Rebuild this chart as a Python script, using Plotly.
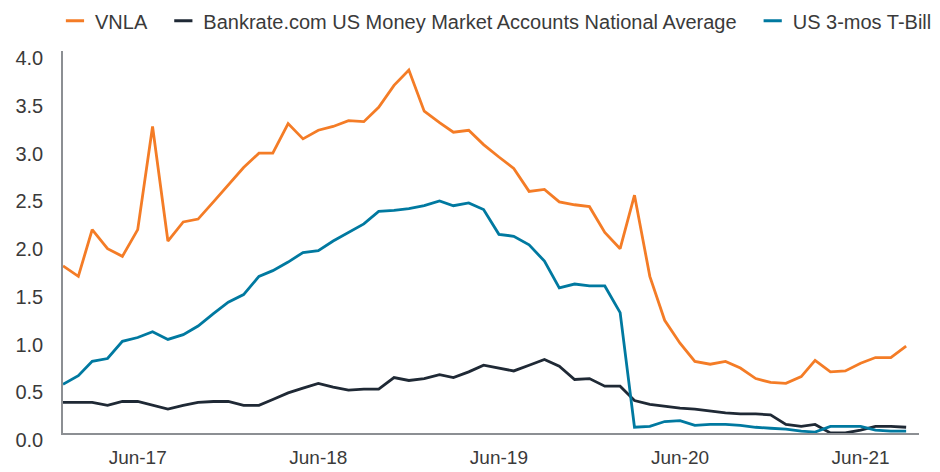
import pandas as pd
import plotly.graph_objects as go

months = pd.date_range("2017-01-01", "2021-09-01", freq="MS")

vnla = [1.75, 1.64, 2.13, 1.93, 1.85, 2.13, 3.21, 2.01, 2.21, 2.24,
        2.42, 2.60, 2.78, 2.93, 2.93, 3.24, 3.08, 3.17, 3.21, 3.27,
        3.26, 3.41, 3.64, 3.80, 3.37, 3.25, 3.15, 3.17, 3.02, 2.89,
        2.77, 2.53, 2.55, 2.42, 2.39, 2.37, 2.10, 1.93, 2.49, 1.64,
        1.18, 0.94, 0.75, 0.72, 0.75, 0.68, 0.57, 0.53, 0.52, 0.59,
        0.76, 0.64, 0.65, 0.73, 0.79, 0.79, 0.91]

bankrate = [0.32, 0.32, 0.32, 0.29, 0.33, 0.33, 0.29, 0.25, 0.29, 0.32,
            0.33, 0.33, 0.29, 0.29, 0.35, 0.42, 0.47, 0.52, 0.48, 0.45,
            0.46, 0.46, 0.58, 0.55, 0.57, 0.61, 0.58, 0.64, 0.71, 0.68,
            0.65, 0.71, 0.77, 0.70, 0.56, 0.57, 0.49, 0.49, 0.34, 0.30,
            0.28, 0.26, 0.25, 0.23, 0.21, 0.20, 0.20, 0.19, 0.09, 0.07,
            0.09, 0.00, 0.00, 0.03, 0.07, 0.07, 0.06]

tbill = [0.51, 0.60, 0.75, 0.78, 0.96, 1.00, 1.06, 0.98, 1.03, 1.12,
         1.25, 1.37, 1.45, 1.64, 1.70, 1.79, 1.89, 1.91, 2.01, 2.10,
         2.19, 2.32, 2.33, 2.35, 2.38, 2.43, 2.38, 2.41, 2.34, 2.08,
         2.06, 1.97, 1.80, 1.52, 1.56, 1.54, 1.54, 1.26, 0.06, 0.07,
         0.12, 0.13, 0.08, 0.09, 0.09, 0.08, 0.06, 0.05, 0.04, 0.02,
         0.01, 0.07, 0.07, 0.07, 0.03, 0.02, 0.02]

series_names = ["VNLA", "Bankrate.com US Money Market Accounts National Average", "US 3-mos T-Bill"]
series_values = [vnla, bankrate, tbill]
colors = ["#F47C26", "#1F2935", "#0079A0"]

tick_dates = ["2017-06-01", "2018-06-01", "2019-06-01", "2020-06-01", "2021-06-01"]
tick_text = ["Jun-17", "Jun-18", "Jun-19", "Jun-20", "Jun-21"]
y_ticks = [0, 0.5, 1.0, 1.5, 2.0, 2.5, 3.0, 3.5, 4.0]

FONT = "Liberation Sans"
TXT = "#3a3a3a"
PAD = "\u00a0\u00a0"

fig = go.Figure()
for name, vals, col in zip(series_names, series_values, colors):
    fig.add_trace(go.Scatter(x=months, y=vals, mode="lines", name=name,
                             line=dict(color=col, width=2.8), showlegend=False))
for i, (name, col) in enumerate(zip(series_names, colors)):
    label = name + (PAD if i < len(series_names) - 1 else "")
    fig.add_trace(go.Scatter(x=[None], y=[None], mode="markers", name=label,
                             marker=dict(symbol="line-ew", size=13, color=col,
                                         line=dict(color=col, width=3))))

fig.update_layout(
    width=940, height=472,
    margin=dict(l=63, r=21, t=51, b=39, autoexpand=False),
    paper_bgcolor="white", plot_bgcolor="white",
    font=dict(family=FONT, size=19, color=TXT),
    legend=dict(orientation="h", x=1.021, xanchor="right", y=1.13, yanchor="top",
                font=dict(family=FONT, size=20, color=TXT),
                itemwidth=30, bgcolor="rgba(0,0,0,0)"),
    xaxis=dict(range=["2017-01-01", "2021-09-27"], tickvals=tick_dates, ticktext=tick_text,
               showgrid=False, zeroline=False, showline=True, linecolor="#8c8f93",
               linewidth=1.5, ticks="", ticklabelstandoff=6, automargin=False),
    yaxis=dict(range=[0, 4.0], tickvals=y_ticks, tickformat=".1f",
               tickfont=dict(size=20),
               showgrid=False, zeroline=False, showline=True, linecolor="#8c8f93",
               linewidth=1.5, ticks="", ticklabelstandoff=14, ticklabelshift=7,
               automargin=False),
)

fig.write_html("out.html")
